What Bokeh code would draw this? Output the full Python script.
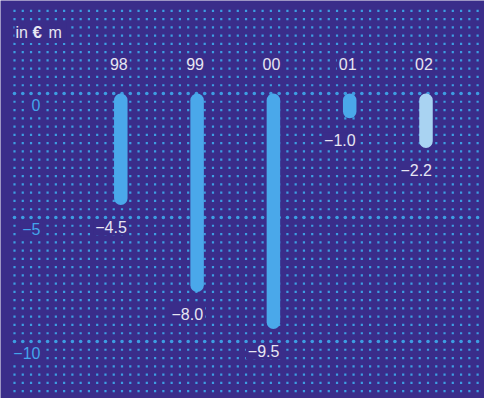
import numpy as np
from bokeh.plotting import figure
from bokeh.models import Range1d, ColumnDataSource
from bokeh.core.properties import value
from bokeh.embed import file_html
from bokeh.resources import INLINE

# ---- data ----
years = ["98", "99", "00", "01", "02"]
values = [-4.5, -8.0, -9.5, -1.0, -2.2]
value_labels = ["\u22124.5", "\u22128.0", "\u22129.5", "\u22121.0", "\u22122.2"]
bar_colors = ["#4aa8ea", "#4aa8ea", "#4aa8ea", "#4aa8ea", "#a9d3f2"]
y_ticks = [0, -5, -10]
y_tick_labels = ["0", "\u22125", "\u221210"]

BG = "#3a2d8a"
DOT = "#3d9ee2"
TXT = "#e6e6f2"
YLAB = "#43a4ea"
FONT = "Liberation Sans"

W, H = 484, 398
cx0, step = 120.3, 76.3      # pixel centre of first bar, spacing
y0px, ppu = 93.0, 24.8       # pixel of zero line, pixels per unit

x_left = -cx0 / step
x_right = (W - cx0) / step
y_top = y0px / ppu
y_bot = -(H - y0px) / ppu

p = figure(width=W, height=H, x_range=Range1d(x_left, x_right),
           y_range=Range1d(y_bot, y_top), output_backend="svg",
           toolbar_location=None, min_border=0)
p.axis.visible = False
p.grid.visible = False
p.outline_line_color = None
p.background_fill_color = BG
p.border_fill_color = BG

# ---- dotted background texture ----
xs_cols = np.arange(14, W, 8.27)
xs_cols = (xs_cols - cx0) / step
rows = np.arange(10, -37, -1) / 3.0
gx, gy = np.meshgrid(xs_cols, rows)
mask = np.ones_like(gx, dtype=bool)
for t in y_ticks:
    mask &= ~np.isclose(gy, t)
p.scatter(gx[mask].ravel(), gy[mask].ravel(), marker="square", size=2.2,
          fill_color=DOT, line_color=None)
# grid rows (bigger dots)
gxs, gys = [], []
for t in y_ticks:
    gxs.extend(xs_cols)
    gys.extend([t] * len(xs_cols))
p.scatter(gxs, gys, marker="circle", size=3.6, fill_color=DOT, line_color=None)

# ---- bars ----
idx = list(range(len(years)))
src = ColumnDataSource(dict(x=idx, v=values, c=bar_colors, lab=value_labels, yr=years))
p.vbar(x="x", top=0, bottom="v", width=13.5 / step, fill_color="c",
       line_color=None, border_radius=7, source=src)

txt_bg = dict(background_fill_color=BG, padding=2)

# value labels
p.text(x="x", y="v", text="lab", source=src, x_offset=8, y_offset=22,
       text_align="right", text_baseline="middle", text_color=TXT,
       text_font=value(FONT), text_font_size="16px", **txt_bg)

# year labels
p.text(x="x", y=0, text="yr", source=src, x_offset=-2, y_offset=-29.5,
       text_align="center", text_baseline="middle", text_color=TXT,
       text_font=value(FONT), text_font_size="16px", **txt_bg)

# y tick labels
ylx = (42 - cx0) / step
p.text(x=[ylx] * len(y_ticks), y=y_ticks, text=y_tick_labels, y_offset=11,
       text_align="right", text_baseline="middle", text_color=YLAB,
       text_font=value(FONT), text_font_size="16px", **txt_bg)

# unit label "in € m"
uy = (y0px - 32) / ppu
p.text(x=[(14 - cx0) / step], y=[uy], text=["in \u20ac m "], text_align="left",
       text_baseline="middle", text_color=BG, text_alpha=0.0,
       text_font=value(FONT), text_font_size="16px", **txt_bg)
p.text(x=[(15 - cx0) / step], y=[uy], text=["in"], text_align="left",
       text_baseline="middle", text_color=TXT, text_font=value(FONT),
       text_font_size="16px")
p.text(x=[(32 - cx0) / step], y=[uy], text=["\u20ac"], text_align="left",
       text_baseline="middle", text_color=TXT, text_font=value(FONT),
       text_font_size="17px", text_font_style="bold")
p.text(x=[(48 - cx0) / step], y=[uy], text=["m"], text_align="left",
       text_baseline="middle", text_color=TXT, text_font=value(FONT),
       text_font_size="16px")

open("out.html", "w").write(file_html(p, INLINE))
